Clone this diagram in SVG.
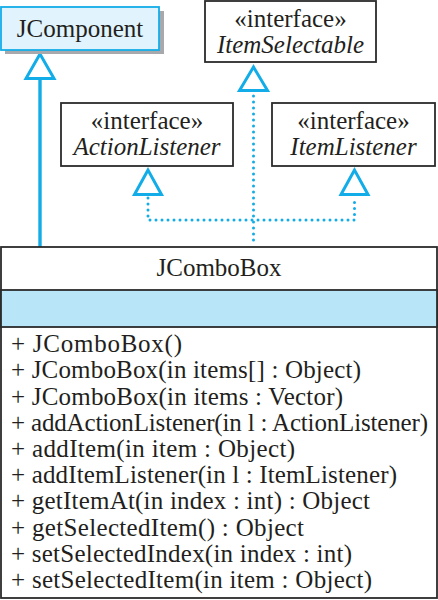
<svg xmlns="http://www.w3.org/2000/svg" width="438" height="600" viewBox="0 0 438 600">
<style>
.box{fill:#fff;stroke:#2b2b2b;stroke-width:1.8}
.t{font-family:'Liberation Serif','Tinos','DejaVu Serif','Noto Serif',serif;font-size:25px;fill:#231f20}
.c{text-anchor:middle}
.i{font-style:italic}
.solid{stroke:#12ade8;stroke-width:3.4;fill:none}
.dot{stroke:#12ade8;stroke-width:3;fill:none;stroke-linecap:round;stroke-dasharray:0 6}
.tri{fill:#fff;stroke:#12ade8;stroke-width:3;stroke-linejoin:miter}
</style>
<rect width="438" height="600" fill="#fff"/>
<g id="connectors">
  <line class="solid" x1="40" y1="78" x2="40" y2="247"/>
  <path class="dot" d="M253.5,96 V246"/>
  <path class="dot" d="M148,198 V220 H354.5 V198"/>
  <path class="tri" d="M40,54 L26,78.5 L54,78.5 Z"/>
  <path class="tri" d="M253.5,67 L239.5,90.5 L267.5,90.5 Z"/>
  <path class="tri" d="M148,170 L134.5,194.5 L161.5,194.5 Z"/>
  <path class="tri" d="M354.5,170 L341,194.5 L368,194.5 Z"/>
</g>
<g id="JComponent">
  <rect x="5" y="11" width="159" height="43" fill="#a7a9ac"/>
  <rect x="1" y="7" width="158" height="43" fill="#e1f3fd" stroke="#12ade8" stroke-width="1.8"/>
  <text class="t c" x="80" y="37" font-family="Liberation Serif">JComponent</text>
</g>
<g id="ItemSelectable">
  <rect class="box" x="205" y="1" width="171" height="61"/>
  <text class="t c" x="290.5" y="27">«interface»</text>
  <text class="t c i" x="290.5" y="53">ItemSelectable</text>
</g>
<g id="ActionListener">
  <rect class="box" x="61" y="103" width="172" height="63"/>
  <text class="t c" x="147" y="129">«interface»</text>
  <text class="t c i" x="147" y="155">ActionListener</text>
</g>
<g id="ItemListener">
  <rect class="box" x="272" y="103" width="163" height="63"/>
  <text class="t c" x="353.5" y="129">«interface»</text>
  <text class="t c i" x="353.5" y="155">ItemListener</text>
</g>
<g id="JComboBox">
  <rect class="box" x="1" y="247" width="436" height="351"/>
  <rect x="1" y="290" width="436" height="37" fill="#b9e5f9" stroke="#2b2b2b" stroke-width="1.8"/>
  <text class="t c" x="219" y="276">JComboBox</text>
  <text class="t" x="11" y="352" textLength="171" lengthAdjust="spacing">+ JComboBox()</text>
  <text class="t" x="11" y="378" textLength="350" lengthAdjust="spacing">+ JComboBox(in items[] : Object)</text>
  <text class="t" x="11" y="404.5" textLength="332" lengthAdjust="spacing">+ JComboBox(in items : Vector)</text>
  <text class="t" x="11" y="430.5" textLength="417" lengthAdjust="spacing">+ addActionListener(in l : ActionListener)</text>
  <text class="t" x="11" y="457" textLength="284" lengthAdjust="spacing">+ addItem(in item : Object)</text>
  <text class="t" x="11" y="483" textLength="386" lengthAdjust="spacing">+ addItemListener(in l : ItemListener)</text>
  <text class="t" x="11" y="509" textLength="359" lengthAdjust="spacing">+ getItemAt(in index : int) : Object</text>
  <text class="t" x="11" y="535.5" textLength="293" lengthAdjust="spacing">+ getSelectedItem() : Object</text>
  <text class="t" x="11" y="561.5" textLength="341" lengthAdjust="spacing">+ setSelectedIndex(in index : int)</text>
  <text class="t" x="11" y="588" textLength="361" lengthAdjust="spacing">+ setSelectedItem(in item : Object)</text>
</g>
</svg>
